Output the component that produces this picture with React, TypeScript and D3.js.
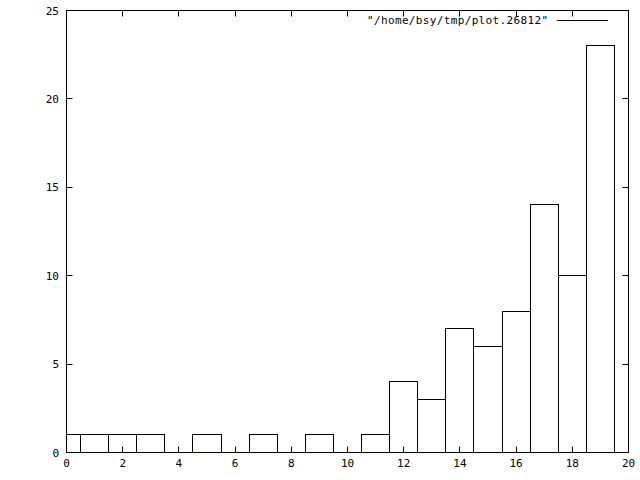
import React from "react";
import * as d3 from "d3";

const binCenters = [0, 1, 2, 3, 4, 5, 6, 7, 8, 9, 10, 11, 12, 13, 14, 15, 16, 17, 18, 19];
const counts = [1, 1, 1, 1, 0, 1, 0, 1, 0, 1, 0, 1, 4, 3, 7, 6, 8, 14, 10, 23];
const xTicks = [0, 2, 4, 6, 8, 10, 12, 14, 16, 18, 20];
const yTicks = [0, 5, 10, 15, 20, 25];
const legendLabel = '"/home/bsy/tmp/plot.26812"';

export default function App() {
  const W = 640, H = 480;
  const left = 66.5, right = 628.5, top = 10.5, bottom = 452.5;
  const x = d3.scaleLinear().domain([0, 20]).range([left, right]);
  const y = d3.scaleLinear().domain([0, 25]).range([bottom, top]);
  const snap = (v: number) => Math.round(v - 0.5) + 0.5;
  const font = "'DejaVu Sans Mono', monospace";
  const tl = 6;

  return (
    <svg width={W} height={H} style={{ position: "absolute", left: 0, top: 0, background: "#fff" }}>
      <defs>
        <clipPath id="plotclip">
          <rect x={left} y={top - 1} width={right - left} height={bottom - top + 2} />
        </clipPath>
      </defs>
      <rect x={0} y={0} width={W} height={H} fill="#fff" />
      <g clipPath="url(#plotclip)">
        {binCenters.map((c, i) =>
          counts[i] > 0 ? (
            <rect
              key={i}
              x={snap(Math.max(x(c - 0.5), left))}
              y={snap(y(counts[i]))}
              width={snap(Math.min(x(c + 0.5), right)) - snap(Math.max(x(c - 0.5), left))}
              height={bottom - snap(y(counts[i]))}
              fill="none"
              stroke="#000"
              strokeWidth={1}
            />
          ) : null
        )}
      </g>
      <g stroke="#000" strokeWidth={1}>
        {xTicks.map((t) => (
          <g key={"x" + t}>
            <line x1={snap(x(t))} x2={snap(x(t))} y1={bottom} y2={bottom - tl} />
            <line x1={snap(x(t))} x2={snap(x(t))} y1={top} y2={top + tl} />
          </g>
        ))}
        {yTicks.map((t) => (
          <g key={"y" + t}>
            <line x1={left} x2={left + tl} y1={snap(y(t))} y2={snap(y(t))} />
            <line x1={right} x2={right - tl} y1={snap(y(t))} y2={snap(y(t))} />
          </g>
        ))}
        <rect x={left} y={top} width={right - left} height={bottom - top} fill="none" />
        <line x1={557} x2={608} y1={20.5} y2={20.5} />
      </g>
      <g fontFamily={font} fontSize={11} fill="#000">
        {xTicks.map((t) => (
          <text key={"xl" + t} x={x(t)} y={467} textAnchor="middle">{t}</text>
        ))}
        {yTicks.map((t) => (
          <text key={"yl" + t} x={59} y={y(t) + 4} textAnchor="end">{t}</text>
        ))}
        <text x={548} y={24} textAnchor="end" textLength={181} lengthAdjust="spacing">{legendLabel}</text>
      </g>
    </svg>
  );
}
